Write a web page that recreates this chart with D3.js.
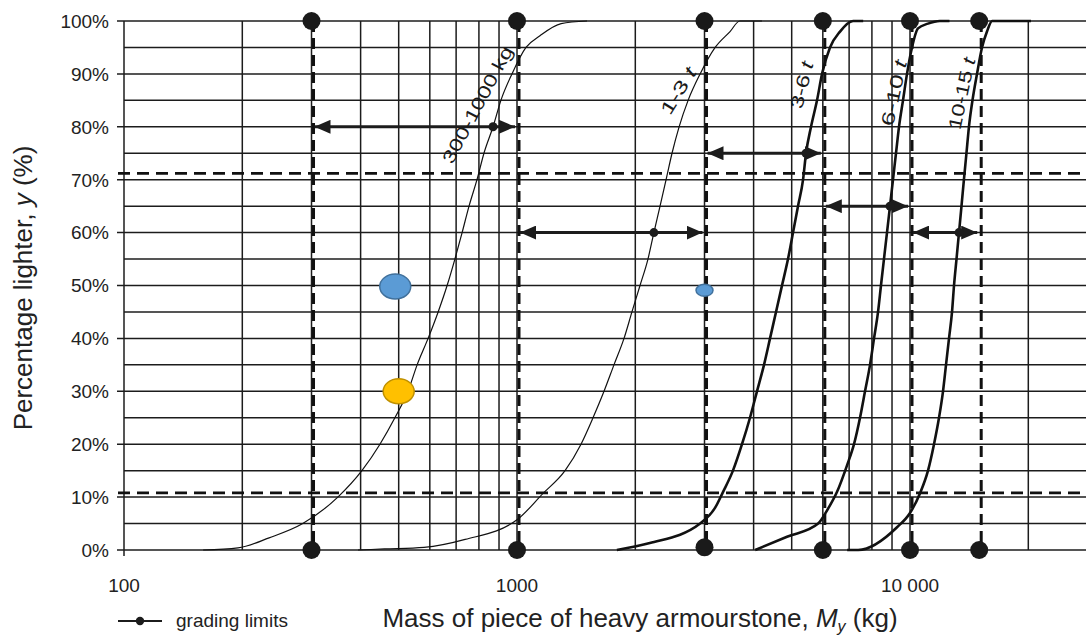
<!DOCTYPE html>
<html><head><meta charset="utf-8">
<script src="https://cdn.jsdelivr.net/npm/d3@7"></script>
<style>
body{margin:0;background:#fff}
svg{display:block;font-family:"Liberation Sans",Arial,Helvetica,sans-serif}
</style>
</head><body>
<svg id="c" width="1086" height="637"></svg>
<script>
// ---------- data ----------
const yTickValues = [0,10,20,30,40,50,60,70,80,90,100];
const yTickLabels = ["0%","10%","20%","30%","40%","50%","60%","70%","80%","90%","100%"];
const xTickValues = [100,1000,10000];
const xTickLabels = ["100","1000","10 000"];

const gradingLimits = [300,1000,3000,6000,10000,15000];
const limitLinesPct = [71.2,10.8];

// curves: [mass kg, percentage lighter]
const curve300_1000 = [[159,0],[195,0.4],[234,2.3],[285,5],[350,10],[403,15],[448,20],[489,25],[528,30],[557,35],[594,40],[630,45],[664,50],[695,55],[725,60],[755,65],[791,70],[824,75],[869,80],[910,85],[971,90],[1054,95],[1144,97.2],[1295,99.5],[1507,100]];
const curve1_3 = [[394,0],[460,0.2],[580,0.5],[738,2],[1000,5.7],[1165,10.7],[1325,15],[1455,20],[1561,25],[1665,30],[1765,35],[1872,40],[1961,45],[2056,50],[2154,55],[2230,60],[2312,65],[2395,70],[2480,75],[2585,80],[2725,85],[2924,90],[3193,95],[3484,98],[3690,100],[4200,100]];
const curve3_6 = [[1795,0],[2178,1.3],[2924,5],[3193,8],[3345,11],[3544,15],[3737,20],[3916,25],[4080,30],[4251,35],[4404,40],[4561,45],[4724,50],[4893,55],[5039,60],[5188,65],[5344,70],[5438,75],[5600,80],[5800,85],[5973,90],[6258,95],[6637,98],[7161,100],[7600,100]];
const curve6_10 = [[4038,0],[4865,2.5],[5838,5],[6152,7.5],[6522,11],[6915,16],[7203,20],[7461,25],[7683,30],[7912,35],[8100,40],[8292,45],[8436,50],[8585,55],[8739,60],[8894,65],[9052,70],[9212,75],[9376,80],[9598,85],[9826,90],[10118,95],[10480,98.6],[11110,99.5],[11910,100],[12600,100]];
const curve10_15 = [[6920,0],[7380,0],[9268,4.3],[10000,7],[10600,10.7],[11112,15],[11510,20],[11852,25],[12134,30],[12349,35],[12568,40],[12792,45],[12942,50],[13132,55],[13325,60],[13521,65],[13715,70],[13920,75],[14125,80],[14420,85],[14807,90],[15249,95],[15700,98],[16180,100],[20320,100]];

const curveNames = ["300-1000 kg","1-3 t","3-6 t","6-10 t","10-15 t"];
const curveLabelMain = ["300-1000 kg","1-3 ","3-6 ","6-10 ","10-15 "];
const curveLabelUnit = ["","t","t","t","t"];
const curveLabelMass = [793,2573,5302,9100,13540];
const curveLabelPct = [84.2,86.8,87.9,86.4,86.3];
const curveLabelAngle = [-62,-58,-76,-78,-78];
const curveLabelLen = [130,52,48,67,73];

// grading arrows
const arrowLo = [300,1000,3000,6000,10000];
const arrowHi = [1000,3000,6000,10000,15000];
const arrowPct = [80,60,75,65,60];
const arrowMid = [869,2230,5438,8894,13325];

// coloured points
const pointMass = [490,3000,500];
const pointPct = [49.8,49.1,30];
const pointSize = ["big","small","big"];
const pointFill = ["#5b9bd5","#5b9bd5","#ffc000"];
const pointStroke = ["#41719c","#41719c","#bf9000"];

// ---------- drawing ----------
const W = 1086, H = 637;
const svg = d3.select("#c");
const x = d3.scaleLog().domain([100,10000]).range([124,910]);
const y = d3.scaleLinear().domain([0,100]).range([550,21]);
const ink = "#1c1c1c";

// arrow marker
const defs = svg.append("defs");
defs.append("marker").attr("id","ah").attr("viewBox","0 0 16 14")
  .attr("refX",16).attr("refY",7).attr("markerWidth",16).attr("markerHeight",14)
  .attr("markerUnits","userSpaceOnUse").attr("orient","auto-start-reverse")
  .append("path").attr("d","M0,0L16,7L0,14Z").attr("fill",ink);

const g = svg.append("g");

// horizontal grid
const yGrid = d3.range(0,101,5);
g.selectAll("line.hg").data(yGrid).join("line")
  .attr("x1",d=>d%10===0?x(100)-7:x(100)).attr("x2",W)
  .attr("y1",d=>y(d)).attr("y2",d=>y(d))
  .attr("stroke",ink).attr("stroke-width",1.5);

// vertical grid (log ticks)
const xGrid = d3.scaleLog().domain([100,20000]).ticks();
g.selectAll("line.vg").data(xGrid).join("line")
  .attr("x1",d=>x(d)).attr("x2",d=>x(d))
  .attr("y1",y(100)).attr("y2",d=>d===100?y(0)+6:y(0))
  .attr("stroke",ink).attr("stroke-width",1.5);

// dashed limit lines (horizontal)
g.selectAll("line.hl").data(limitLinesPct).join("line")
  .attr("x1",x(100)-6).attr("x2",W)
  .attr("y1",d=>y(d)).attr("y2",d=>y(d))
  .attr("stroke","#111").attr("stroke-width",2.6).attr("stroke-dasharray","12,7");

// dashed grading limits (vertical)
g.selectAll("line.vl").data(gradingLimits).join("line")
  .attr("x1",d=>x(d)+2).attr("x2",d=>x(d)+2)
  .attr("y1",y(100)).attr("y2",y(0))
  .attr("stroke","#111").attr("stroke-width",3).attr("stroke-dasharray","11,6");

// curves
const line = d3.line().x(d=>x(d[0])).y(d=>y(d[1])).curve(d3.curveMonotoneX);
const curves = [curve300_1000,curve1_3,curve3_6,curve6_10,curve10_15];
const curveWidth = [1.2,1.2,2.6,2.6,2.6];
g.selectAll("path.cv").data(curves).join("path")
  .attr("d",line).attr("fill","none").attr("stroke","#111")
  .attr("stroke-width",(d,i)=>curveWidth[i]);

// grading limit dots
g.selectAll("circle.top").data(gradingLimits).join("circle")
  .attr("cx",d=>x(d)).attr("cy",y(100)).attr("r",9).attr("fill","#1a1a1a");
g.selectAll("circle.bot").data(gradingLimits).join("circle")
  .attr("cx",d=>x(d)).attr("cy",(d,i)=>i===2?y(0.5):y(0)).attr("r",9).attr("fill","#1a1a1a");

// arrows
arrowLo.forEach((lo,i)=>{
  g.append("line").attr("x1",x(lo)+3).attr("x2",x(arrowHi[i])-2)
    .attr("y1",y(arrowPct[i])).attr("y2",y(arrowPct[i]))
    .attr("stroke",ink).attr("stroke-width",3)
    .attr("marker-start","url(#ah)").attr("marker-end","url(#ah)");
  g.append("circle").attr("cx",x(arrowMid[i])).attr("cy",y(arrowPct[i])).attr("r",4.5).attr("fill",ink);
});

// curve labels
curveNames.forEach((nm,i)=>{
  const t = g.append("text")
    .attr("transform",`translate(${x(curveLabelMass[i])},${y(curveLabelPct[i])}) rotate(${curveLabelAngle[i]})`)
    .attr("text-anchor","middle").attr("dy","0.35em")
    .attr("font-size",18).attr("fill","#1a1a1a")
    .attr("textLength",curveLabelLen[i]).attr("lengthAdjust","spacingAndGlyphs");
  t.append("tspan").text(curveLabelMain[i]);
  if (curveLabelUnit[i]) t.append("tspan").attr("font-style","italic").text(curveLabelUnit[i]);
});

// coloured points
g.selectAll("ellipse.pt").data(pointMass).join("ellipse")
  .attr("cx",d=>x(d)).attr("cy",(d,i)=>y(pointPct[i]))
  .attr("rx",(d,i)=>pointSize[i]==="big"?15.5:8.5)
  .attr("ry",(d,i)=>pointSize[i]==="big"?12.5:6)
  .attr("fill",(d,i)=>pointFill[i]).attr("stroke",(d,i)=>pointStroke[i]).attr("stroke-width",1.5);

// y tick labels
g.selectAll("text.yt").data(yTickValues).join("text")
  .attr("x",109).attr("y",d=>y(d)).attr("dy","0.36em")
  .attr("text-anchor","end").attr("font-size",19).attr("fill","#222")
  .text((d,i)=>yTickLabels[i]);

// x tick labels
g.selectAll("text.xt").data(xTickValues).join("text")
  .attr("x",d=>x(d)).attr("y",592)
  .attr("text-anchor","middle").attr("font-size",19).attr("fill","#222")
  .text((d,i)=>xTickLabels[i]);

// y axis title
const yt = svg.append("text")
  .attr("transform","translate(32,288) rotate(-90)")
  .attr("text-anchor","middle").attr("font-size",26).attr("fill","#222");
yt.append("tspan").text("Percentage lighter, ");
yt.append("tspan").attr("font-style","italic").text("y");
yt.append("tspan").text(" (%)");

// x axis title
const xt = svg.append("text").attr("x",640).attr("y",627)
  .attr("text-anchor","middle").attr("font-size",26).attr("fill","#222");
xt.append("tspan").text("Mass of piece of heavy armourstone, ");
xt.append("tspan").attr("font-style","italic").text("M");
xt.append("tspan").attr("font-style","italic").attr("font-size",16).attr("dy",5).text("y");
xt.append("tspan").attr("dy",-5).text(" (kg)");

// legend
const lg = svg.append("g");
lg.append("line").attr("x1",118).attr("x2",162).attr("y1",621).attr("y2",621)
  .attr("stroke",ink).attr("stroke-width",2.2);
lg.append("circle").attr("cx",140).attr("cy",621).attr("r",4.2).attr("fill",ink);
lg.append("text").attr("x",176).attr("y",627).attr("font-size",19).attr("fill","#222").text("grading limits");
</script>
</body></html>
